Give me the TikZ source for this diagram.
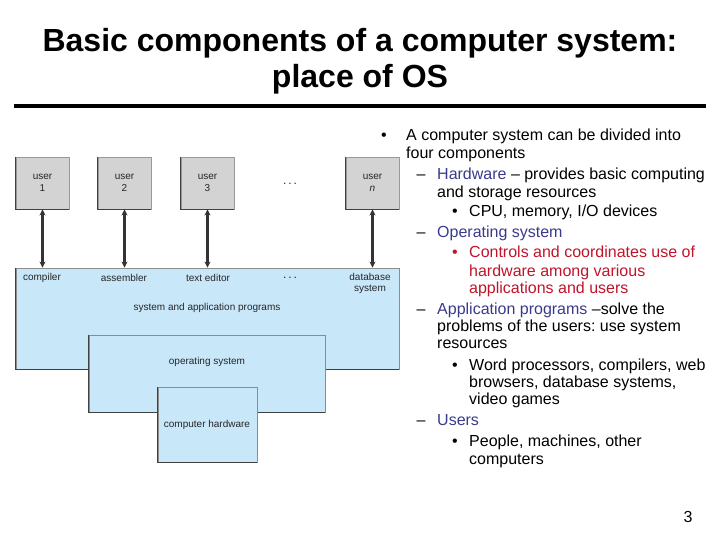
\documentclass[tikz,border=0pt]{standalone}
\usepackage{fontspec}
\setmainfont{Liberation Sans}
\usetikzlibrary{arrows.meta}
\definecolor{boxblue}{HTML}{C8E7F9}
\definecolor{usergray}{HTML}{D3D3D3}
\definecolor{navytext}{HTML}{3A3A8C}
\definecolor{redtext}{HTML}{C0142A}
\frenchspacing
\begin{document}
\begin{tikzpicture}[x=1pt, y=-1pt,
  ubox/.style={draw=black!40, line width=0.9pt, fill=usergray, minimum width=53pt,
    minimum height=52pt, inner sep=0pt, align=center, text=black!85,
    font=\fontsize{10}{12}\selectfont},
  layer/.style={draw=black!45, line width=0.8pt, fill=boxblue, inner sep=0pt},
  shade/.style={line width=1.1pt, black!75},
  lbl/.style={font=\fontsize{10}{11}\selectfont, align=center, inner sep=0pt, text=black!85},
  uarrow/.style={{Stealth[length=6pt,width=6pt]}-{Stealth[length=6pt,width=6pt]}, line width=2.2pt, black!80},
  txt/.style={anchor=base west, inner sep=0pt, font=\fontsize{16}{18}\selectfont}]
  \useasboundingbox (0,0) rectangle (720,540);
  % title
  \node[font=\fontsize{32}{37}\bfseries, anchor=base] (title1) at (360,52) {Basic components of a computer system:};
  \node[font=\fontsize{32}{37}\bfseries, anchor=base] (title2) at (360,88) {place of OS};
  \draw[line width=4pt] (14,106) -- (706,106);
  % users
  \node[ubox] (user1) at (42.5,183) {user\\1};
  \node[ubox] (user2) at (124.5,183) {user\\2};
  \node[ubox] (user3) at (207.5,183) {user\\3};
  \node[ubox] (usern) at (372.5,183) {user\\\textit{n}};
  \foreach \u in {user1,user2,user3,usern}
    \draw[shade] (\u.north west) -- (\u.south west) -- (\u.south east);
  \node[lbl, font=\fontsize{12}{12}\selectfont] (udots) at (290,184) {.\,.\,.};
  % layers, each one over the last
  \node[layer, minimum width=383pt, minimum height=101pt] (apps) at (207.5,318.5) {};
  \draw[shade] (apps.north west) -- (apps.south west) -- (apps.south east);
  \node[layer, minimum width=236pt, minimum height=77pt] (os) at (207,373.5) {};
  \draw[shade] (os.north west) -- (os.south west) -- (os.south east);
  \node[layer, minimum width=99pt, minimum height=75pt] (hw) at (207.5,424.5) {};
  \draw[shade] (hw.north west) -- (hw.south west) -- (hw.south east);
  \node[lbl] (compiler) at (42,278) {compiler};
  \node[lbl] (assembler) at (124,278) {assembler};
  \node[lbl] (editor) at (208,278) {text editor};
  \node[lbl, font=\fontsize{12}{12}\selectfont] (adots) at (290,278) {.\,.\,.};
  \node[lbl] (dbsys) at (370,283) {database\\system};
  \node[lbl] (progs) at (207,308) {system and application programs};
  \node[lbl] (oslbl) at (207,362) {operating system};
  \node[lbl] (hwlbl) at (207,425) {computer hardware};
  % user <-> program arrows
  \coordinate (a1) at (user1.south |- apps.north);
  \coordinate (a2) at (user2.south |- apps.north);
  \coordinate (a3) at (user3.south |- apps.north);
  \coordinate (an) at (usern.south |- apps.north);
  \draw[uarrow] (user1.south) -- (a1);
  \draw[uarrow] (user2.south) -- (a2);
  \draw[uarrow] (user3.south) -- (a3);
  \draw[uarrow] (usern.south) -- (an);
  % bullet text
  \node[txt, anchor=base] (b1) at (384,141) {•};
  \node[txt] (t1) at (406,141) {A computer system can be divided into};
  \node[txt] (t2) at (406,159) {four components};
  \node[txt, anchor=base] (d1) at (421,180) {–};
  \node[txt] (t3) at (437,180) {\textcolor{navytext}{Hardware} – provides basic computing};
  \node[txt] (t4) at (437,197) {and storage resources};
  \node[txt, anchor=base] (b2) at (455,216) {•};
  \node[txt] (t5) at (469,216) {CPU, memory, I/O devices};
  \node[txt, anchor=base] (d2) at (421,237) {–};
  \node[txt, navytext] (t6) at (437,237) {Operating system};
  \node[txt, anchor=base, redtext] (b3) at (455,258) {•};
  \node[txt, redtext] (t7) at (469,258) {Controls and coordinates use of};
  \node[txt, redtext] (t8) at (469,276) {hardware among various};
  \node[txt, redtext] (t9) at (469,293) {applications and users};
  \node[txt, anchor=base] (d3) at (421,314) {–};
  \node[txt] (t10) at (437,314) {\textcolor{navytext}{Application programs} –solve the};
  \node[txt] (t11) at (437,331) {problems of the users: use system};
  \node[txt] (t12) at (437,348) {resources};
  \node[txt, anchor=base] (b4) at (455,370) {•};
  \node[txt] (t13) at (469,370) {Word processors, compilers, web};
  \node[txt] (t14) at (469,387) {browsers, database systems,};
  \node[txt] (t15) at (469,404) {video games};
  \node[txt, anchor=base] (d4) at (421,425) {–};
  \node[txt, navytext] (t16) at (437,425) {Users};
  \node[txt, anchor=base] (b5) at (455,446) {•};
  \node[txt] (t17) at (469,446) {People, machines, other};
  \node[txt] (t18) at (469,464) {computers};
  \node[txt, anchor=base] (pnum) at (688,522) {3};
\end{tikzpicture}
\end{document}
